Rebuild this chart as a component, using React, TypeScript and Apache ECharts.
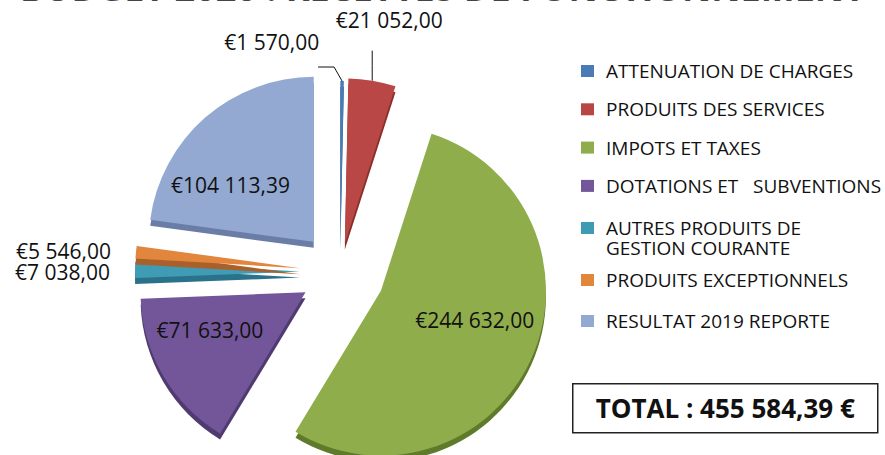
import React, { useEffect, useRef } from 'react';
import * as echarts from 'echarts';

// ---- data ----
const categories = [
  'ATTENUATION DE CHARGES',
  'PRODUITS DES SERVICES',
  'IMPOTS ET TAXES',
  'DOTATIONS ET   SUBVENTIONS',
  'AUTRES PRODUITS DE GESTION COURANTE',
  'PRODUITS EXCEPTIONNELS',
  'RESULTAT 2019 REPORTE',
];
const legendLabels = [
  'ATTENUATION DE CHARGES',
  'PRODUITS DES SERVICES',
  'IMPOTS ET TAXES',
  'DOTATIONS ET   SUBVENTIONS',
  'AUTRES PRODUITS DE\nGESTION COURANTE',
  'PRODUITS EXCEPTIONNELS',
  'RESULTAT 2019 REPORTE',
];
const values = [1570, 21052, 244632, 71633, 7038, 5546, 104113.39];
const totalText = 'TOTAL : 455 584,39 €';
const titleText = 'BUDGET 2020 : RECETTES DE FONCTIONNEMENT';

// ---- styles ----
const FONT = '"Open Sans", "Noto Sans", sans-serif';
const CENTER: [number, number] = [340, 272];
const colors = ['#4A7BB7', '#B84744', '#8FAD4C', '#73579A', '#3F9BB4', '#E2863C', '#93A9D1'];
const edgeColors = ['#2F5A8C', '#8A2F2C', '#5F7A2C', '#4F3A70', '#2A7289', '#A9602A', '#6A7DA6'];
const explode = [26, 29, 45, 40, 40, 40, 40];
const lineLen: [number, number][] = [[12, 8], [30, 0], [12, 8], [12, 8], [12, 8], [12, 8], [12, 8]];

const fmtEuro = (v: number) => {
  const [i, d] = v.toFixed(2).split('.');
  return '€' + i.replace(/\B(?=(\d{3})+(?!\d))/g, ' ') + ',' + d;
};

const insideIdx = [2, 3, 6];
const labelShift: Record<number, [number, number]> = {
  2: [16, -6],
  3: [-22, -6],
  4: [0, 2],
  6: [-27, 8],
};

// outside labels with a custom leader shape, moved relative to their default spot
function leaderLayout(line: [number, number][], shift: [number, number], align: string) {
  return (p: any) => {
    const a = p.labelLinePoints && p.labelLinePoints[0];
    const out: any = { dx: shift[0], dy: shift[1], align, verticalAlign: 'middle' };
    if (a) out.labelLinePoints = [a, ...line.map(([x, y]) => [a[0] + x, a[1] + y])];
    return out;
  };
}

function labelLayoutFor(i: number) {
  if (i === 0) return leaderLayout([[-8, -14], [-24, -14]], [-36, -27], 'right');
  if (i === 1) return leaderLayout([[0, -15], [0, -30]], [7, -31], 'center');
  if (labelShift[i]) return { dx: labelShift[i][0], dy: labelShift[i][1] };
  return undefined;
}

function buildOption() {
  const series = categories.map((_, i) => {
    const inside = insideIdx.includes(i);
    const withLine = i === 0 || i === 1;
    return {
      type: 'pie',
      name: 'slice' + i,
      center: CENTER,
      radius: 165,
      startAngle: 90,
      clockwise: true,
      selectedMode: 'multiple',
      selectedOffset: explode[i],
      avoidLabelOverlap: false,
      silent: true,
      emphasis: { disabled: true },
      label: {
        position: inside ? 'inside' : 'outside',
        formatter: (p: any) => fmtEuro(p.value),
        fontFamily: FONT,
        fontSize: 21,
        color: '#111',
      },
      labelLine: {
        show: withLine,
        length: lineLen[i][0],
        length2: lineLen[i][1],
        lineStyle: { color: '#111', width: 1 },
      },
      labelLayout: labelLayoutFor(i),
      data: categories.map((name, j) => ({
        name,
        value: values[j],
        selected: j === i,
        itemStyle:
          j === i
            ? { color: colors[j], shadowColor: edgeColors[j], shadowOffsetY: 6, shadowBlur: 0 }
            : { color: 'rgba(0,0,0,0)' },
        label: { show: j === i },
        labelLine: { show: j === i && withLine },
      })),
    };
  });

  const textBase = { fontFamily: FONT, fontSize: 19, lineHeight: 20, color: '#111', padding: [0, 0, 0, 7] };
  const legendBase = {
    orient: 'vertical',
    left: 581,
    padding: 0,
    itemWidth: 13,
    itemHeight: 12,
    icon: 'rect',
    selectedMode: false,
    formatter: (name: string) => legendLabels[categories.indexOf(name)],
    textStyle: textBase,
  };
  const legendItem = (j: number) => ({
    name: categories[j],
    itemStyle: { color: colors[j], borderWidth: 0 },
  });

  return {
    animation: false,
    backgroundColor: '#ffffff',
    legend: [
      { ...legendBase, top: 61, itemGap: 18.3, data: [0, 1, 2, 3].map(legendItem) },
      {
        ...legendBase,
        top: 198,
        // blank first line keeps the swatch level with the first text line
        formatter: (name: string) => '\n' + legendLabels[categories.indexOf(name)],
        data: [legendItem(4)],
      },
      { ...legendBase, top: 270, itemGap: 21, data: [5, 6].map(legendItem) },
    ],
    graphic: [
      {
        type: 'text',
        left: 'center',
        top: -31,
        style: { text: titleText, font: 'bold 36px "Open Sans"', fill: '#444' },
      },
      {
        type: 'group',
        left: 572,
        top: 383,
        children: [
          {
            type: 'rect',
            shape: { x: 0, y: 0, width: 305, height: 49 },
            style: { fill: '#fff', stroke: '#222', lineWidth: 1.5 },
          },
          {
            type: 'text',
            x: 152.5,
            y: 24.5,
            style: {
              text: totalText,
              font: 'bold 26px "Open Sans"',
              fill: '#111',
              align: 'center',
              verticalAlign: 'middle',
            },
          },
        ],
      },
    ],
    series,
  };
}

export default function App() {
  const ref = useRef<HTMLDivElement>(null);
  useEffect(() => {
    document.body.style.margin = '0';
    const chart = echarts.init(ref.current!, null, { renderer: 'svg' });
    chart.setOption(buildOption() as any);
    return () => chart.dispose();
  }, []);
  return <div ref={ref} style={{ width: 885, height: 455 }} />;
}
